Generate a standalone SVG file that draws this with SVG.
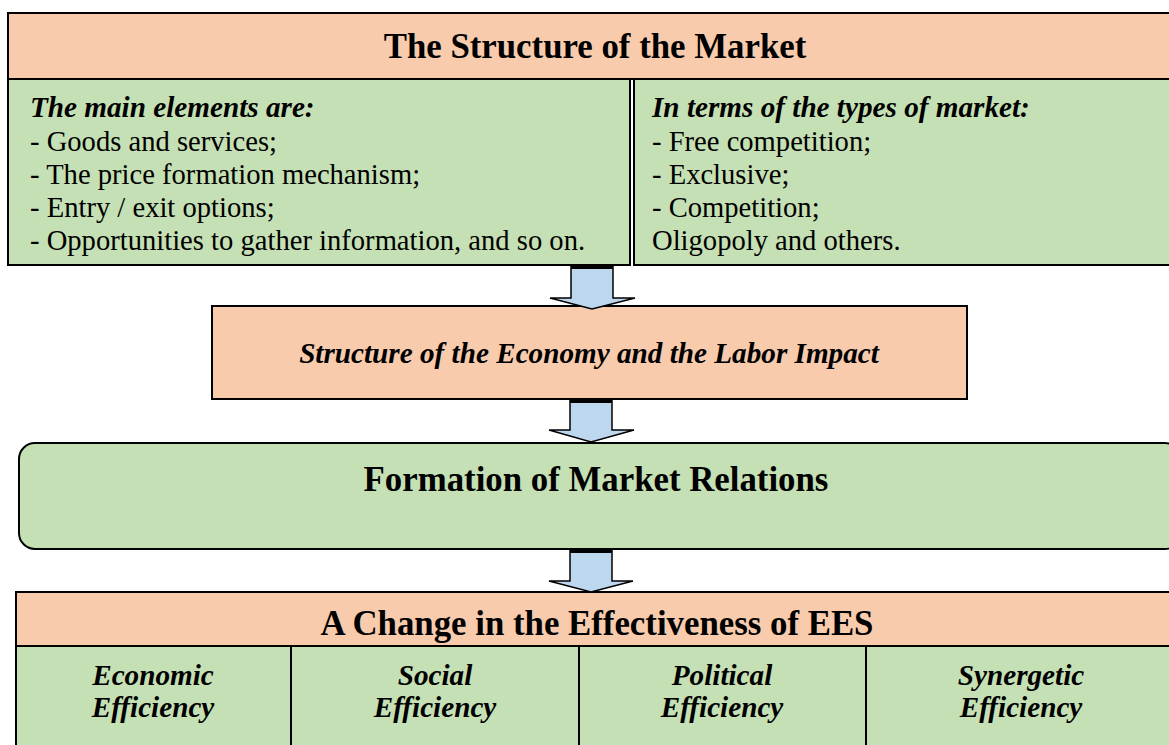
<svg xmlns="http://www.w3.org/2000/svg" width="1169" height="745" viewBox="0 0 1169 745">
<style>
.peach{fill:#F8CBAD;stroke:#000;stroke-width:2}
.green{fill:#C5E0B4;stroke:#000;stroke-width:2}
text{fill:#000}
.h{font-size:34.8px;font-weight:bold;text-anchor:middle}
.b{font-size:28.6px}
.bi{font-size:29.2px;font-weight:bold;font-style:italic}
.c{text-anchor:middle}
.arrow{fill:#BDD7EE;stroke:#000;stroke-width:1.5}
</style>
<rect width="1169" height="745" fill="#fff"/>
<g id="market-structure" font-family="'Liberation Serif', 'Times New Roman', 'Noto Serif', 'DejaVu Serif', serif">
<rect class="peach" x="8" y="13" width="1174" height="66"/>
<rect class="green" x="8" y="79" width="622" height="186"/>
<rect class="green" x="634" y="79" width="548" height="186"/>
<text class="h" x="595" y="58">The Structure of the Market</text>
<text class="bi" x="30" y="117">The main elements are:</text>
<text class="b" x="30" y="151">- Goods and services;</text>
<text class="b" x="30" y="184">- The price formation mechanism;</text>
<text class="b" x="30" y="217">- Entry / exit options;</text>
<text class="b" x="30" y="250">- Opportunities to gather information, and so on.</text>
<text class="bi" x="652" y="117">In terms of the types of market:</text>
<text class="b" x="652" y="151">- Free competition;</text>
<text class="b" x="652" y="184">- Exclusive;</text>
<text class="b" x="652" y="217">- Competition;</text>
<text class="b" x="652" y="250">Oligopoly and others.</text>
</g>
<g id="economy-structure" font-family="'Liberation Serif', 'Times New Roman', 'Noto Serif', 'DejaVu Serif', serif">
<rect class="peach" x="212" y="306" width="755" height="93"/>
<text class="bi c" x="589" y="363">Structure of the Economy and the Labor Impact</text>
</g>
<g id="market-relations" font-family="'Liberation Serif', 'Times New Roman', 'Noto Serif', 'DejaVu Serif', serif">
<rect class="green" x="19" y="443" width="1162" height="106" rx="16"/>
<text class="h" x="596" y="491">Formation of Market Relations</text>
</g>
<g id="effectiveness" font-family="'Liberation Serif', 'Times New Roman', 'Noto Serif', 'DejaVu Serif', serif">
<rect class="peach" x="16" y="592" width="1166" height="54"/>
<rect class="green" x="16" y="646" width="275" height="110"/>
<rect class="green" x="291" y="646" width="288" height="110"/>
<rect class="green" x="579" y="646" width="287" height="110"/>
<rect class="green" x="866" y="646" width="316" height="110"/>
<text class="h" x="597" y="635">A Change in the Effectiveness of EES</text>
<text class="bi c" x="153" y="685">Economic</text>
<text class="bi c" x="153" y="717">Efficiency</text>
<text class="bi c" x="435" y="685">Social</text>
<text class="bi c" x="435" y="717">Efficiency</text>
<text class="bi c" x="722" y="685">Political</text>
<text class="bi c" x="722" y="717">Efficiency</text>
<text class="bi c" x="1021" y="685">Synergetic</text>
<text class="bi c" x="1021" y="717">Efficiency</text>
</g>
<g id="connectors">
<polygon class="arrow" points="571,266 613,266 613,298 635,298 592,309 550,298 571,298"/>
<rect x="571" y="265" width="42" height="4" fill="#000"/>
<polygon class="arrow" points="570,400 612,400 612,430 634,430 591,442 549,430 570,430"/>
<rect x="570" y="399" width="42" height="4" fill="#000"/>
<polygon class="arrow" points="570,550 612,550 612,581 633,581 591,592 549,581 570,581"/>
<rect x="570" y="549" width="42" height="4" fill="#000"/>
</g>
</svg>
